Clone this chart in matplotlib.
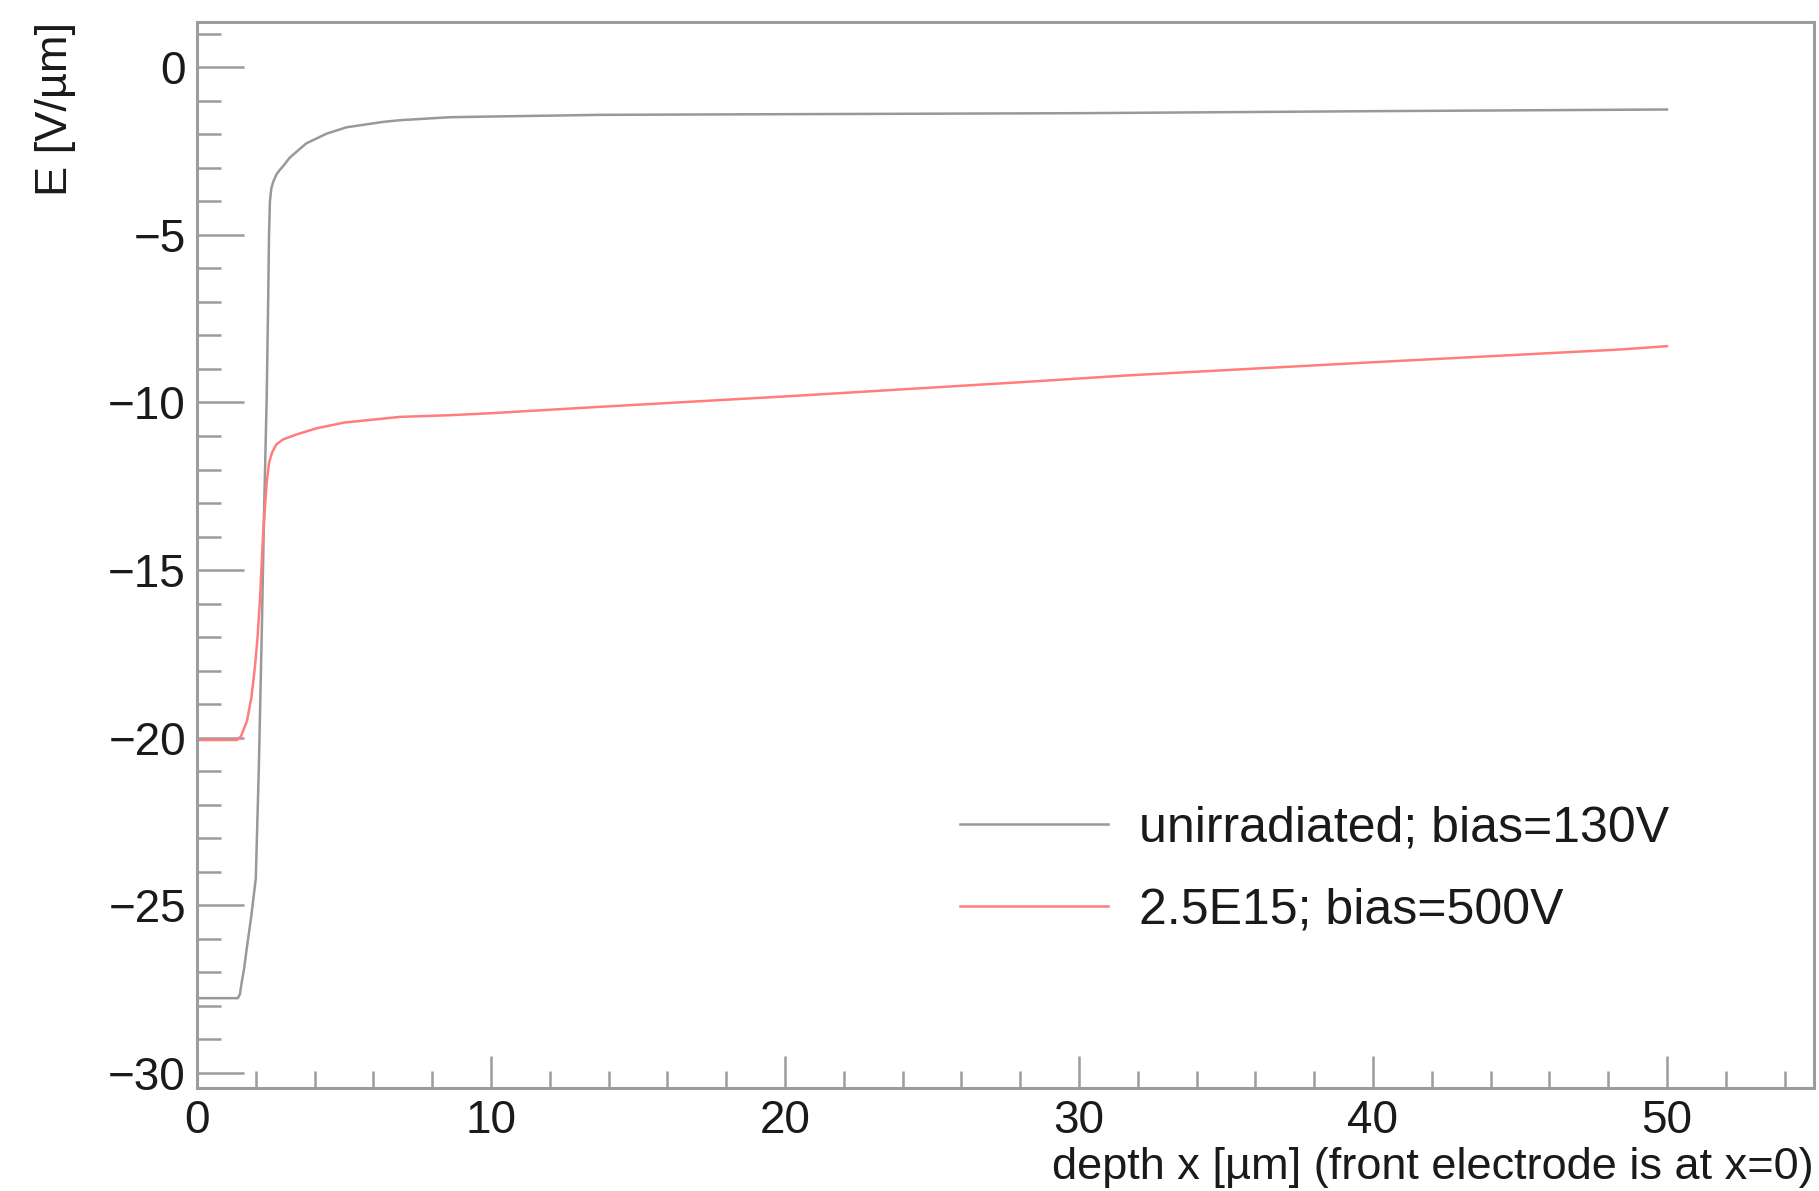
import matplotlib
matplotlib.use("Agg")
import matplotlib.pyplot as plt
from matplotlib.ticker import MultipleLocator

# unirradiated, bias = 130 V
x_unirr = [0, 1.39, 1.46, 1.52, 1.6, 1.69, 1.85, 2.0, 2.1, 2.2, 2.29, 2.37, 2.42, 2.45, 2.48, 2.53,
           2.6, 2.7, 2.8, 2.93, 3.15, 3.44, 3.72, 4.41, 5.09, 6.33, 6.9, 8.6, 10, 13.7, 20, 30, 40, 50]
E_unirr = [-27.77, -27.77, -27.65, -27.3, -26.9, -26.3, -25.3, -24.2, -21.0, -17.0, -12.9, -9.9, -7.0, -5.0, -4.0, -3.6,
           -3.4, -3.2, -3.08, -2.95, -2.7, -2.48, -2.27, -1.98, -1.79, -1.63, -1.58, -1.49, -1.47, -1.42, -1.40, -1.37, -1.31, -1.26]

# 2.5E15, bias = 500 V
x_irr = [0, 1.36, 1.5, 1.7, 1.85, 1.97, 2.06, 2.14, 2.25, 2.37, 2.45, 2.55, 2.7, 2.93,
         3.4, 4.07, 5.0, 6.9, 8.6, 10, 13.7, 20, 28.3, 31.7, 40, 48.4, 50]
E_irr = [-20.07, -20.07, -19.95, -19.5, -18.8, -17.9, -17.0, -15.9, -13.9, -12.4, -11.8, -11.5, -11.25, -11.1,
         -10.95, -10.77, -10.6, -10.43, -10.38, -10.32, -10.13, -9.82, -9.38, -9.19, -8.8, -8.42, -8.32]

labels = ["unirradiated; bias=130V", "2.5E15; bias=500V"]

plt.rcParams['font.family'] = ['Liberation Sans', 'DejaVu Sans']
W, H = 1819, 1191
fig = plt.figure(figsize=(W / 100, H / 100), dpi=100)
ax = fig.add_axes([197 / W, 1 - 1088 / H, (1814 - 197) / W, (1088 - 22) / H])

ax.plot(x_unirr, E_unirr, color='#999999', lw=1.8, label=labels[0])
ax.plot(x_irr, E_irr, color='#ff7d7d', lw=1.8, label=labels[1])

ax.set_xlim(0, 55)
ax.set_ylim(-30.45, 1.35)

frame = '#9c9c9c'
for s in ax.spines.values():
    s.set_color(frame)
    s.set_linewidth(2.2)

ax.xaxis.set_major_locator(MultipleLocator(10))
ax.xaxis.set_minor_locator(MultipleLocator(2))
ax.yaxis.set_major_locator(MultipleLocator(5))
ax.yaxis.set_minor_locator(MultipleLocator(1))
ax.tick_params(axis='both', which='both', direction='in', color=frame, width=1.8,
               labelsize=33, labelcolor='#1a1a1a', top=False, right=False)
ax.tick_params(axis='x', which='major', length=23, pad=8)
ax.tick_params(axis='x', which='minor', length=12)
ax.tick_params(axis='y', which='major', length=34, pad=8)
ax.tick_params(axis='y', which='minor', length=17)

ax.set_xlabel("depth x [µm] (front electrode is at x=0)", fontsize=32.5, color='#1a1a1a', loc='right')
ax.set_ylabel("E [V/µm]", fontsize=32.5, color='#1a1a1a', loc='top')
ax.xaxis.set_label_coords(1.0, -0.055)
ax.yaxis.set_label_coords(-0.075, 1.0)

ax.legend(loc='upper left', bbox_to_anchor=(960 / W, 1 - 805 / H), bbox_transform=fig.transFigure,
          frameon=False, fontsize=36, handlelength=2.96, handletextpad=0.62, labelspacing=0.73,
          borderpad=0, borderaxespad=0, labelcolor='#1a1a1a')

fig.savefig("out.png", dpi=100)
